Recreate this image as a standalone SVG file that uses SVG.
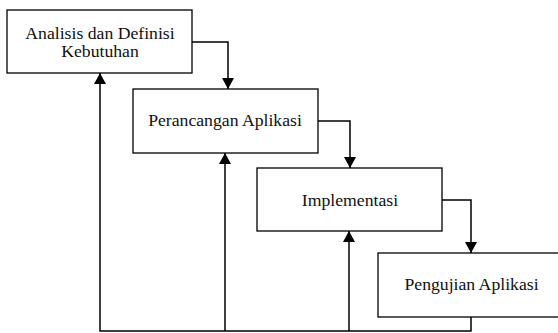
<svg xmlns="http://www.w3.org/2000/svg" width="558" height="333" viewBox="0 0 558 333">
<style>
.box{fill:#fff;stroke:#000;stroke-width:1.3}
.lbl{font-family:"Liberation Serif","Times New Roman",serif;font-size:17.7px;fill:#111;text-anchor:middle}
.con{fill:none;stroke:#000;stroke-width:1.5}
</style>
<defs>
<marker id="ah" viewBox="0 0 11 12" refX="11" refY="6" markerWidth="11" markerHeight="12" markerUnits="userSpaceOnUse" orient="auto">
<path d="M0,0 L11,6 L0,12 Z" fill="#000"/>
</marker>
</defs>
<g id="connectors">
<path class="con" d="M192,42 H228 V89" marker-end="url(#ah)"/>
<path class="con" d="M318,121 H350 V168" marker-end="url(#ah)"/>
<path class="con" d="M442,200 H471 V253" marker-end="url(#ah)"/>
<path class="con" d="M471,317 V331 H100 V73" marker-end="url(#ah)"/>
<path class="con" d="M225,331 V153" marker-end="url(#ah)"/>
<path class="con" d="M349,331 V231" marker-end="url(#ah)"/>
</g>
<g id="n1">
<rect class="box" x="7" y="10" width="185" height="63"/>
<text class="lbl" x="100" y="39">Analisis dan Definisi</text>
<text class="lbl" x="100" y="57">Kebutuhan</text>
</g>
<g id="n2">
<rect class="box" x="133" y="89" width="185" height="64"/>
<text class="lbl" x="225" y="126">Perancangan Aplikasi</text>
</g>
<g id="n3">
<rect class="box" x="257" y="168" width="185" height="63"/>
<text class="lbl" x="350" y="206">Implementasi</text>
</g>
<g id="n4">
<rect class="box" x="378" y="253" width="187" height="64"/>
<text class="lbl" x="471.5" y="290">Pengujian Aplikasi</text>
</g>
</svg>
